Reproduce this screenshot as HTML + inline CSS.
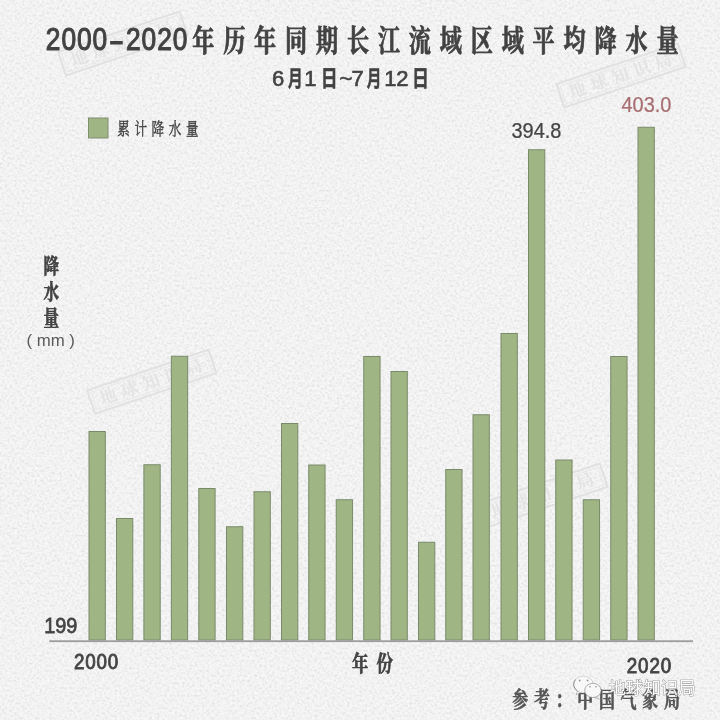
<!DOCTYPE html>
<html lang="zh-CN">
<head>
<meta charset="utf-8">
<title>2000-2020年历年同期长江流域区域平均降水量</title>
<style>
html,body{margin:0;padding:0;background:#eeeeee;}
body{width:720px;height:720px;overflow:hidden;position:relative;}
svg{display:block;position:absolute;left:0;top:0;}
.sans{font-family:"Liberation Sans","Noto Sans CJK SC",sans-serif;}
.serif{font-family:"Liberation Serif","Noto Serif CJK SC",serif;}
.hei{font-family:"Liberation Sans","Noto Sans CJK SC",sans-serif;font-weight:700;}
</style>
</head>
<body>
<svg width="720" height="720" viewBox="0 0 720 720">
<defs>
<filter id="noise" x="0" y="0" width="100%" height="100%" color-interpolation-filters="sRGB">
<feTurbulence type="fractalNoise" baseFrequency="0.4" numOctaves="3" seed="7"/>
<feColorMatrix type="matrix" values="1.9 0 0 0 -0.45  1.9 0 0 0 -0.45  1.9 0 0 0 -0.45  0 0 0 0 1"/>
<feComponentTransfer><feFuncR type="table" tableValues="0.9 0.931 0.952 0.966 0.976"/><feFuncG type="table" tableValues="0.9 0.931 0.952 0.966 0.976"/><feFuncB type="table" tableValues="0.9 0.931 0.952 0.966 0.976"/></feComponentTransfer>
</filter>
</defs>
<rect width="720" height="720" fill="#f1f1f1"/>
<rect width="720" height="720" filter="url(#noise)"/>

<!-- faint stamps -->
<g transform="translate(122.75,43.5) rotate(-18.5)" class="stamp">
<rect x="-64.0" y="-12.25" width="128" height="24.5" fill="none" stroke="#e1e1e1" stroke-width="2"/>
<rect x="-61.0" y="-9.25" width="122" height="18.5" fill="none" stroke="#e5e5e5" stroke-width="0.7"/>
<text x="2" y="6" text-anchor="middle" font-size="17" letter-spacing="5.5" fill="#e3e3e3" font-family="'Liberation Serif','Noto Serif CJK SC',serif" font-weight="700">地球知识局</text>
</g>
<g transform="translate(621,75.5) rotate(-18.5)" class="stamp">
<rect x="-64.0" y="-12.25" width="128" height="24.5" fill="none" stroke="#e1e1e1" stroke-width="2"/>
<rect x="-61.0" y="-9.25" width="122" height="18.5" fill="none" stroke="#e5e5e5" stroke-width="0.7"/>
<text x="2" y="6" text-anchor="middle" font-size="17" letter-spacing="5.5" fill="#e3e3e3" font-family="'Liberation Serif','Noto Serif CJK SC',serif" font-weight="700">地球知识局</text>
</g>
<g transform="translate(151.75,381.75) rotate(-18.5)" class="stamp">
<rect x="-64.0" y="-12.25" width="128" height="24.5" fill="none" stroke="#e1e1e1" stroke-width="2"/>
<rect x="-61.0" y="-9.25" width="122" height="18.5" fill="none" stroke="#e5e5e5" stroke-width="0.7"/>
<text x="2" y="6" text-anchor="middle" font-size="17" letter-spacing="5.5" fill="#e3e3e3" font-family="'Liberation Serif','Noto Serif CJK SC',serif" font-weight="700">地球知识局</text>
</g>
<g transform="translate(543,495.5) rotate(-18.5)" class="stamp">
<rect x="-64.0" y="-12.25" width="128" height="24.5" fill="none" stroke="#e1e1e1" stroke-width="2"/>
<rect x="-61.0" y="-9.25" width="122" height="18.5" fill="none" stroke="#e5e5e5" stroke-width="0.7"/>
<text x="2" y="6" text-anchor="middle" font-size="17" letter-spacing="5.5" fill="#e3e3e3" font-family="'Liberation Serif','Noto Serif CJK SC',serif" font-weight="700">地球知识局</text>
</g>

<!-- title -->
<g fill="#424242">
<g class="sans" font-size="31.4" stroke="#424242" stroke-width="1.1" letter-spacing="1.1">
<text transform="translate(45.8,50.3) scale(0.84,1)">2000</text>
<text transform="translate(109.0,50.9) scale(1.42,1)" stroke-width="1.2" letter-spacing="0">-</text>
<text transform="translate(126.0,50.3) scale(0.84,1)">2020</text>
</g>
<text class="serif" transform="translate(192.2,51) scale(0.737,1)" font-size="30" font-weight="700" letter-spacing="12" stroke="#424242" stroke-width="0.8">年历年同期长江流域区域平均降水量</text>
</g>

<!-- subtitle -->
<text class="sans" y="86.2" font-size="22" fill="#424242" stroke="#424242" stroke-width="0.6"><tspan x="272">6</tspan><tspan x="288" textLength="14.6" lengthAdjust="spacingAndGlyphs" font-weight="700">月</tspan><tspan x="304.2">1</tspan><tspan x="321" textLength="16.5" lengthAdjust="spacingAndGlyphs" font-weight="700">日</tspan><tspan x="339.6">~</tspan><tspan x="351.6">7</tspan><tspan x="366.8" textLength="14.6" lengthAdjust="spacingAndGlyphs" font-weight="700">月</tspan><tspan x="384.3">1</tspan><tspan x="396.2">2</tspan><tspan x="412.2" textLength="16.5" lengthAdjust="spacingAndGlyphs" font-weight="700">日</tspan></text>

<!-- legend -->
<rect x="88.5" y="118" width="19.5" height="20" fill="#a0b584" stroke="#7f8f70" stroke-width="1"/>
<text class="serif" transform="translate(117.3,135.2) scale(0.74,1)" font-size="17" font-weight="400" fill="#3e3e3e" stroke="#3e3e3e" stroke-width="0.4" letter-spacing="6.2">累计降水量</text>

<!-- y label -->
<g fill="#424242" class="serif" font-weight="700" font-size="21" stroke="#424242" stroke-width="0.7">
<text transform="translate(43.6,273.3) scale(0.74,1)">降</text>
<text transform="translate(43.6,299) scale(0.74,1)">水</text>
<text transform="translate(43.6,324.8) scale(0.74,1)">量</text>
</g>
<text class="sans" x="26.5" y="346.2" font-size="16.8" fill="#5a5a5a">( mm )</text>

<!-- bars -->
<g fill="#a0b584" stroke="#7a8a6b" stroke-width="1">
<rect x="89.00" y="431.50" width="16.30" height="208.50"/>
<rect x="116.50" y="518.50" width="16.30" height="121.50"/>
<rect x="143.90" y="464.75" width="16.30" height="175.25"/>
<rect x="171.35" y="356.25" width="16.30" height="283.75"/>
<rect x="198.80" y="488.50" width="16.30" height="151.50"/>
<rect x="226.50" y="526.75" width="16.30" height="113.25"/>
<rect x="254.00" y="491.75" width="16.30" height="148.25"/>
<rect x="281.50" y="423.50" width="16.30" height="216.50"/>
<rect x="308.75" y="465.00" width="16.30" height="175.00"/>
<rect x="336.25" y="499.75" width="16.30" height="140.25"/>
<rect x="363.75" y="356.50" width="16.30" height="283.50"/>
<rect x="391.00" y="371.50" width="16.30" height="268.50"/>
<rect x="418.50" y="542.25" width="16.30" height="97.75"/>
<rect x="445.75" y="469.50" width="16.30" height="170.50"/>
<rect x="473.00" y="414.75" width="16.30" height="225.25"/>
<rect x="501.00" y="333.50" width="16.30" height="306.50"/>
<rect x="528.50" y="149.75" width="16.30" height="490.25"/>
<rect x="555.75" y="460.00" width="16.30" height="180.00"/>
<rect x="583.25" y="499.75" width="16.30" height="140.25"/>
<rect x="610.75" y="356.50" width="16.30" height="283.50"/>
<rect x="638.00" y="127.25" width="16.30" height="512.75"/>
</g>

<!-- axis -->
<rect x="49.3" y="640.3" width="643.7" height="1.8" fill="#9c9c9c"/>

<!-- labels -->
<g class="sans" fill="#444">
<text transform="translate(511.5,138) scale(0.925,1)" font-size="21.6" stroke="#444" stroke-width="0.25">394.8</text>
<text transform="translate(621.5,112) scale(0.925,1)" font-size="21.6" fill="#a86e71" stroke="#a86e71" stroke-width="0.25">403.0</text>
<text transform="translate(44.2,633.3) scale(0.92,1)" font-size="21.6" stroke="#444" stroke-width="0.75">199</text>
<text transform="translate(74.0,669.4) scale(0.87,1)" font-size="21.6" stroke="#444" stroke-width="0.9" letter-spacing="0.95">2000</text>
<text transform="translate(626.7,673.3) scale(0.87,1)" font-size="21.6" stroke="#444" stroke-width="0.9" letter-spacing="1.05">2020</text>
</g>
<text class="serif" transform="translate(352,670.8) scale(0.74,1)" font-size="22" font-weight="700" fill="#424242" stroke="#424242" stroke-width="0.7" letter-spacing="11">年份</text>

<!-- source -->
<text class="serif" transform="translate(512.2,706.8) scale(0.74,1)" font-size="21.5" font-weight="700" fill="#555" stroke="#555" stroke-width="0.6" letter-spacing="7.8">参考：中国气象局</text>

<!-- wechat watermark -->
<g>
<g fill="#f8f8f8" stroke="#8c8c8c" stroke-width="0.7">
<path d="M577.5 691 L576 695 L580.6 692.4 Z" stroke-width="0.5"/>
<ellipse cx="583.4" cy="684.4" rx="9.8" ry="8.3" stroke="#c4c4c4"/>
<path d="M575.5 679.5 A9.8 8.3 0 0 0 577.3 690.9" fill="none" stroke="#777" stroke-width="0.8"/>
<path d="M597 696.6 L599.4 699.4 L594.2 697.6 Z" stroke-width="0.5"/>
<ellipse cx="592.9" cy="690.4" rx="8.2" ry="7.1"/>
</g>
<g fill="#909090"><circle cx="579.7" cy="680.5" r="0.9"/><circle cx="587.6" cy="680.5" r="0.9"/><circle cx="590" cy="686.8" r="0.8"/><circle cx="596" cy="686.8" r="0.8"/></g>
<text class="sans" x="608.6" y="694.3" font-size="17.4" fill="#fbfbfb" stroke="#787878" stroke-width="0.7" paint-order="stroke" letter-spacing="0">地球知识局</text>
</g>
</svg>
</body>
</html>
